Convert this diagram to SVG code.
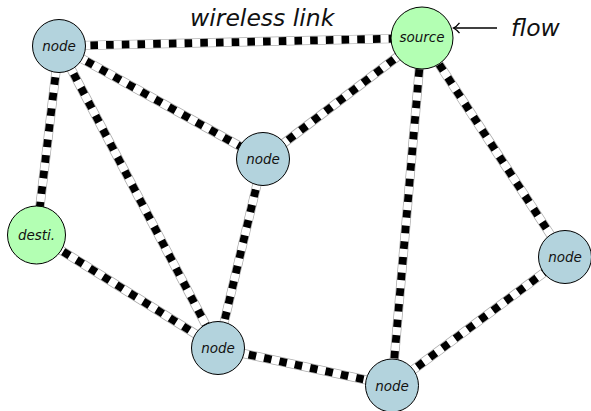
<svg xmlns="http://www.w3.org/2000/svg" width="591" height="411" viewBox="0 0 591 411">
  <defs>
    <style>
      .edge-rim { stroke: #a8a8a8; stroke-width: 9.2; fill: none; }
      .edge-core { stroke: #ffffff; stroke-width: 7.8; fill: none; }
      .edge-dash { stroke: #000000; stroke-width: 7.8; fill: none; stroke-dasharray: 7.6 8.1; }
      .node circle { stroke: #000000; stroke-width: 1; }
      .plain circle { fill: #b3d3dd; }
      .end circle { fill: #b3ffb3; }
      .node text { font-family: "DejaVu Sans", "Liberation Sans", sans-serif; font-style: italic; font-size: 13.5px; fill: #111; text-anchor: middle; }
      .label { font-family: "DejaVu Sans", "Liberation Sans", sans-serif; font-style: italic; font-size: 23.5px; fill: #111; }
      .arrow { stroke: #000000; stroke-width: 1.3; fill: none; }
    </style>
  </defs>

  <!-- links: grey rim, white core, black dashes on top -->
  <g id="connectors">
    <g class="edge-rim">
      <line x1="59" y1="46" x2="422" y2="38"/>
      <line x1="59" y1="46" x2="263" y2="159"/>
      <line x1="59" y1="46" x2="36.5" y2="235"/>
      <line x1="59" y1="46" x2="218" y2="348"/>
      <line x1="263" y1="159" x2="422" y2="38"/>
      <line x1="263" y1="159" x2="218" y2="348"/>
      <line x1="422" y1="38" x2="392" y2="385.5"/>
      <line x1="422" y1="38" x2="565" y2="257"/>
      <line x1="36.5" y1="235" x2="218" y2="348"/>
      <line x1="218" y1="348" x2="392" y2="385.5"/>
      <line x1="392" y1="385.5" x2="565" y2="257"/>
    </g>
    <g class="edge-core">
      <line x1="59" y1="46" x2="422" y2="38"/>
      <line x1="59" y1="46" x2="263" y2="159"/>
      <line x1="59" y1="46" x2="36.5" y2="235"/>
      <line x1="59" y1="46" x2="218" y2="348"/>
      <line x1="263" y1="159" x2="422" y2="38"/>
      <line x1="263" y1="159" x2="218" y2="348"/>
      <line x1="422" y1="38" x2="392" y2="385.5"/>
      <line x1="422" y1="38" x2="565" y2="257"/>
      <line x1="36.5" y1="235" x2="218" y2="348"/>
      <line x1="218" y1="348" x2="392" y2="385.5"/>
      <line x1="392" y1="385.5" x2="565" y2="257"/>
    </g>
    <g class="edge-dash">
      <line x1="59" y1="46" x2="422" y2="38"/>
      <line x1="59" y1="46" x2="263" y2="159"/>
      <line x1="59" y1="46" x2="36.5" y2="235"/>
      <line x1="59" y1="46" x2="218" y2="348"/>
      <line x1="263" y1="159" x2="422" y2="38"/>
      <line x1="263" y1="159" x2="218" y2="348"/>
      <line x1="422" y1="38" x2="392" y2="385.5"/>
      <line x1="422" y1="38" x2="565" y2="257"/>
      <line x1="36.5" y1="235" x2="218" y2="348"/>
      <line x1="218" y1="348" x2="392" y2="385.5"/>
      <line x1="392" y1="385.5" x2="565" y2="257"/>
    </g>
    <!-- flow arrow into the source -->
    <g class="arrow">
      <line x1="497" y1="28" x2="453.5" y2="28"/>
      <path d="M 459.5 22.8 Q 456.5 26.6 453.5 28 Q 456.5 29.4 459.5 33.2"/>
    </g>
  </g>

  <g id="node-a" class="node plain">
    <circle cx="59" cy="46" r="26.5"/>
    <text x="59" y="51">node</text>
  </g>
  <g id="node-source" class="node end">
    <circle cx="422" cy="38" r="31"/>
    <text x="422" y="42">source</text>
  </g>
  <g id="node-b" class="node plain">
    <circle cx="263" cy="159" r="26.5"/>
    <text x="263" y="164">node</text>
  </g>
  <g id="node-dest" class="node end">
    <circle cx="36.5" cy="235" r="29"/>
    <text x="36.5" y="240">desti.</text>
  </g>
  <g id="node-c" class="node plain">
    <circle cx="218" cy="348" r="26.5"/>
    <text x="218" y="353">node</text>
  </g>
  <g id="node-d" class="node plain">
    <circle cx="392" cy="385.5" r="26.5"/>
    <text x="392" y="390.5">node</text>
  </g>
  <g id="node-e" class="node plain">
    <circle cx="565" cy="257" r="26.5"/>
    <text x="565" y="262">node</text>
  </g>

  <text class="label" x="190" y="26">wireless link</text>
  <text class="label" x="511" y="36">flow</text>
</svg>
